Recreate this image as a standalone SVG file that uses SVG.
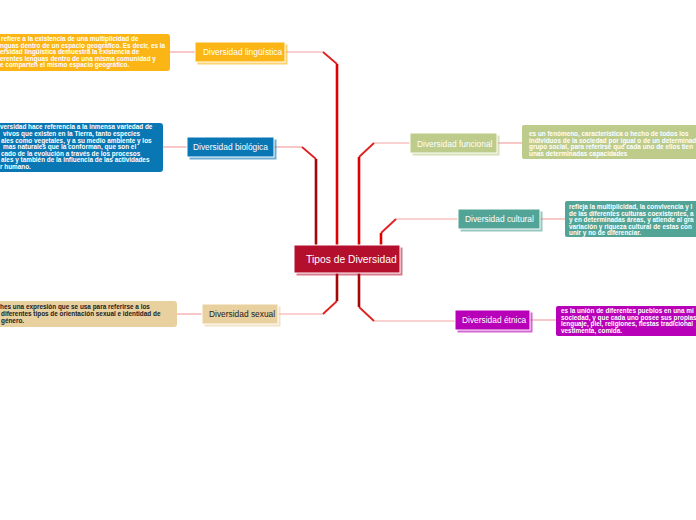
<svg xmlns="http://www.w3.org/2000/svg" width="696" height="520" viewBox="0 0 696 520">
<style>
.nt{font-family:"Liberation Sans",Arial,sans-serif;font-size:8.4px;fill:#ffffff}
.ntd{font-family:"Liberation Sans",Arial,sans-serif;font-size:8.4px;fill:#222222}
.note{font-family:"Liberation Sans",Arial,sans-serif;font-size:6.4px;font-weight:bold;fill:#ffffff}
.noted{font-family:"Liberation Sans",Arial,sans-serif;font-size:6.4px;font-weight:bold;fill:#222222}
.thin{fill:none;stroke:#f4a3a3;stroke-width:1.2}
.mid{fill:none;stroke:#e02020;stroke-width:1.8}
.thick{fill:none;stroke:#e00000;stroke-width:2.6}
.dark{fill:none;stroke:#a30808;stroke-width:2.6}
.box{stroke:#ffffff;stroke-width:1}
</style>
<rect width="696" height="520" fill="#ffffff"/>
<g id="connectors">
<path class="thin" d="M285 52 H323"/><path class="mid" d="M323 52 L337 64"/><path class="thick" d="M337 64 V246"/>
<path class="thin" d="M274 147 H302"/><path class="mid" d="M302 147 L316 159" stroke="#b01010"/><path class="dark" d="M316 159 V246"/>
<path class="thin" d="M410 143 H374"/><path class="mid" d="M374 143 L359 157"/><path class="thick" d="M359 157 V246"/>
<path class="thin" d="M458 219 H396"/><path class="mid" d="M396 219 L381 233"/><path class="thick" d="M381 233 V246"/>
<path class="thin" d="M278 314 H323"/><path class="mid" d="M323 314 L337 301"/><path class="dark" d="M337 301 V273"/>
<path class="thin" d="M455 321 H374"/><path class="mid" d="M374 321 L359 307"/><path class="dark" d="M359 307 V273"/>
<path class="thin" d="M170 52 H195"/>
<path class="thin" d="M163 147 H187"/>
<path class="thin" d="M177 314 H202"/>
<path class="thin" d="M497 143 H522"/>
<path class="thin" d="M540 219 H565"/>
<path class="thin" d="M530 320 H556"/>
</g>
<g id="center">
<rect x="296.5" y="247.5" width="106" height="28" fill="#b50f2e" opacity="0.55"/>
<rect class="box" x="294" y="245" width="106" height="28" fill="#b50f2e"/>
<text x="306" y="263" font-family="Liberation Sans,Arial,sans-serif" font-size="10.3" fill="#ffffff">Tipos de Diversidad</text>
</g>
<g id="n-linguistica">
<rect x="197.5" y="44.5" width="90" height="20" fill="#fbb514" opacity="0.6"/>
<rect class="box" x="195" y="42" width="90" height="20" fill="#fbb514"/>
<text class="nt" x="203" y="55">Diversidad lingüística</text>
</g>
<g id="n-biologica">
<rect x="189.5" y="139.5" width="87" height="20" fill="#0a77b5" opacity="0.6"/>
<rect class="box" x="187" y="137" width="87" height="20" fill="#0a77b5"/>
<text class="nt" x="193" y="150">Diversidad biológica</text>
</g>
<g id="n-funcional">
<rect x="412.5" y="135.5" width="87" height="20" fill="#bdcb8b" opacity="0.6"/>
<rect class="box" x="410" y="133" width="87" height="20" fill="#bdcb8b"/>
<text class="nt" x="417" y="146.5">Diversidad funcional</text>
</g>
<g id="n-cultural">
<rect x="460.5" y="211.5" width="82" height="20" fill="#52a496" opacity="0.6"/>
<rect class="box" x="458" y="209" width="82" height="20" fill="#52a496"/>
<text class="nt" x="465" y="222">Diversidad cultural</text>
</g>
<g id="n-sexual">
<rect x="204.5" y="306.5" width="76" height="20" fill="#e8d09f" opacity="0.6"/>
<rect class="box" x="202" y="304" width="76" height="20" fill="#e8d09f"/>
<text class="ntd" x="209" y="317">Diversidad sexual</text>
</g>
<g id="n-etnica">
<rect x="457.5" y="312.5" width="75" height="20" fill="#b800b8" opacity="0.6"/>
<rect class="box" x="455" y="310" width="75" height="20" fill="#b800b8"/>
<text class="nt" x="462" y="323">Diversidad étnica</text>
</g>
<g id="note-linguistica">
<rect x="-5" y="34" width="175" height="37" rx="3" fill="#fbb514"/>
<text class="note" x="1" y="41">refiere a la existencia de una multiplicidad de</text>
<text class="note" x="0" y="47.5">nguas dentro de un espacio geográfico. Es decir, es la</text>
<text class="note" x="0" y="54">ersidad lingüística demuestra la existencia de</text>
<text class="note" x="0" y="60.5">erentes lenguas dentro de una misma comunidad y</text>
<text class="note" x="0" y="67">e comparten el mismo espacio geográfico.</text>
</g>
<g id="note-biologica">
<rect x="-5" y="123" width="168" height="49" rx="3" fill="#0a77b5"/>
<text class="note" x="0" y="129.3">versidad hace referencia a la inmensa variedad de</text>
<text class="note" x="3" y="135.9">vivos que existen en la Tierra, tanto especies</text>
<text class="note" x="1" y="142.5">ales como vegetales, y a su medio ambiente y los</text>
<text class="note" x="3" y="149.1">mas naturales que la conforman, que son el</text>
<text class="note" x="1" y="155.7">cado de la evolución a través de los procesos</text>
<text class="note" x="1" y="162.3">ales y también de la influencia de las actividades</text>
<text class="note" x="0" y="168.9">r humano.</text>
</g>
<g id="note-funcional">
<rect x="522" y="125" width="180" height="34" rx="2" fill="#bdcb8b"/>
<text class="note" x="529" y="136" fill="#f6f6e8">es un fenómeno, característica o hecho de todos los</text>
<text class="note" x="529" y="142.5">individuos de la sociedad por igual o de un determinad</text>
<text class="note" x="529" y="149">grupo social, para referirse que cada uno de ellos tien</text>
<text class="note" x="529" y="155.5">unas determinadas capacidades</text>
</g>
<g id="note-cultural">
<rect x="565" y="201" width="136" height="36" rx="2" fill="#52a496"/>
<text class="note" x="569" y="209.3">refleja la multiplicidad, la convivencia y l</text>
<text class="note" x="569" y="215.7">de las diferentes culturas coexistentes, a</text>
<text class="note" x="569" y="222">y en determinadas áreas, y atiende al gra</text>
<text class="note" x="569" y="228.5">variación y riqueza cultural de estas con</text>
<text class="note" x="569" y="235">unir y no de diferenciar.</text>
</g>
<g id="note-etnica">
<rect x="556" y="306" width="145" height="30" rx="2" fill="#b800b8"/>
<text class="note" x="561" y="313">es la unión de diferentes pueblos en una mi</text>
<text class="note" x="561" y="319.7">sociedad, y que cada uno posee sus propias</text>
<text class="note" x="561" y="326.3">lenguaje, piel, religiones, fiestas tradicional</text>
<text class="note" x="561" y="333">vestimenta, comida.</text>
</g>
<g id="note-sexual">
<rect x="-5" y="301" width="182" height="26" rx="3" fill="#e8d09f"/>
<text class="noted" x="0" y="309.3">hes una expresión que se usa para referirse a los</text>
<text class="noted" x="1" y="315.8">diferentes tipos de orientación sexual e identidad de</text>
<text class="noted" x="1" y="322.5">género.</text>
</g>
</svg>
